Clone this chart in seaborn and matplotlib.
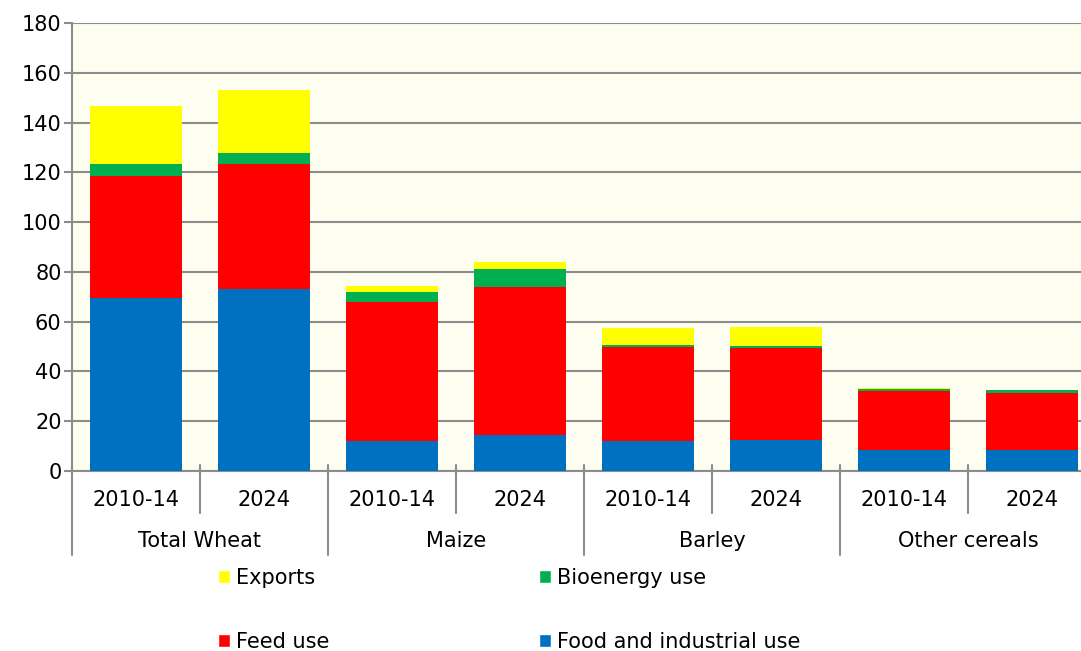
import numpy as np
import pandas as pd
import matplotlib
matplotlib.use('Agg')
import matplotlib.pyplot as plt
import matplotlib.transforms as mtransforms
from matplotlib.patches import Patch
import seaborn as sns

# Dados
grupos = ['Total Wheat', 'Maize', 'Barley', 'Other cereals']
periodos = ['2010-14', '2024']
food = [69.4, 73.0, 12.0, 14.3, 12.2, 12.3, 8.3, 8.6]
feed = [49.3, 50.5, 56.0, 59.8, 37.6, 37.2, 23.7, 22.7]
bioenergy = [4.5, 4.3, 3.8, 7.1, 0.7, 0.7, 0.9, 1.2]
exports = [23.6, 25.1, 2.4, 2.6, 7.1, 7.7, 0.4, 0.1]

series = ['Food and industrial use', 'Feed use', 'Bioenergy use', 'Exports']
cores = {'Food and industrial use': '#0070C0', 'Feed use': '#FF0000',
         'Bioenergy use': '#00B050', 'Exports': '#FFFF00'}

barras = [g + ' ' + p for g in grupos for p in periodos]
df = pd.DataFrame({'barra': barras, 'Food and industrial use': food,
                   'Feed use': feed, 'Bioenergy use': bioenergy, 'Exports': exports})

sns.set_style('white')
plt.rcParams['font.family'] = ['DejaVu Sans']
plt.rcParams['text.color'] = 'black'

fig = plt.figure(figsize=(10.81, 6.51), dpi=100)
ax = fig.add_axes([72 / 1081, 1 - 471 / 651, 1024 / 1081, 448 / 651])
ax.set_facecolor('#FEFEF0')

base = np.zeros(len(df))
for s in series:
    sns.barplot(data=df, x='barra', y=s, color=cores[s], bottom=base,
                width=0.72, saturation=1, ax=ax, zorder=3, linewidth=0)
    base = base + df[s].values

ax.set_ylim(0, 180)
ax.set_yticks(range(0, 181, 20))
ax.set_xlim(-0.5, len(barras) - 0.5)
ax.yaxis.grid(True, color='#8C8C8C', linewidth=1.5, zorder=0)
ax.set_axisbelow(True)
ax.tick_params(axis='y', labelsize=15, colors='#8C8C8C', labelcolor='black',
               length=6, width=1.5, left=True, pad=1.5)
ax.set_xlabel('')
ax.set_ylabel('')
ax.set_xticks([])
for lado in ['top', 'right']:
    ax.spines[lado].set_visible(False)
for lado in ['left', 'bottom']:
    ax.spines[lado].set_color('#8C8C8C')
    ax.spines[lado].set_linewidth(1.5)

# Eixo x em dois níveis
trans = mtransforms.blended_transform_factory(ax.transData, ax.transAxes)
px = 1 / 448
for i in range(len(barras) + 1):
    x = i - 0.5
    fim = -84 * px if i % 2 == 0 else -42 * px
    ax.plot([x, x], [6 * px, fim], transform=trans, color='#8C8C8C',
            linewidth=1.5, clip_on=False)
for i, b in enumerate(barras):
    ax.text(i, -29 * px, periodos[i % 2], transform=trans, ha='center',
            va='center', fontsize=15)
for j, g in enumerate(grupos):
    ax.text(2 * j + 0.5, -70 * px, g, transform=trans, ha='center',
            va='center', fontsize=15)

# Legenda
ordem = ['Exports', 'Feed use', 'Bioenergy use', 'Food and industrial use']
handles = [Patch(facecolor=cores[s], label=s) for s in ordem]
fig.legend(handles=handles, loc='upper left', bbox_to_anchor=(218 / 1081, 1 - 568 / 651),
           ncol=2, frameon=False, fontsize=15, handlelength=0.58, handleheight=0.58,
           handletextpad=0.3, columnspacing=10.05, labelspacing=2.09, borderpad=0,
           borderaxespad=0)

plt.savefig('out.png', dpi=100)
plt.close()
